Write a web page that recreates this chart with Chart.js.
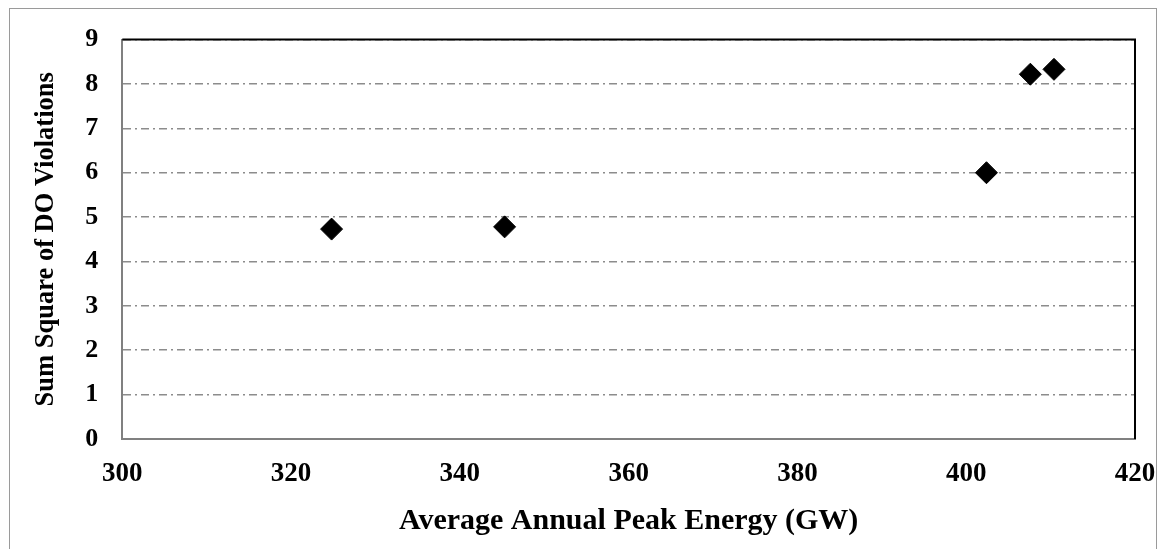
<!DOCTYPE html>
<html>
<head>
<meta charset="utf-8">
<script src="https://cdn.jsdelivr.net/npm/chart.js@4"></script>
<style>
  html, body { margin: 0; padding: 0; background: #fff; }
  #wrap { position: relative; width: 1166px; height: 549px; }
  #frame { position: absolute; left: 9px; top: 8px; width: 1148px; height: 560px; border: 1px solid #9a9a9a; box-sizing: border-box; }
  canvas { position: absolute; left: 0; top: 0; }
</style>
</head>
<body>
<div id="wrap">
  <div id="frame"></div>
  <canvas id="chart" width="1166" height="549"></canvas>
</div>
<script>
// values
const peakEnergy = [324.8, 345.3, 402.4, 407.6, 410.4];   // GW
const violations = [4.73, 4.78, 6.0, 8.22, 8.33];
const xTicks = [300, 320, 340, 360, 380, 400, 420];
const yTicks = [0, 1, 2, 3, 4, 5, 6, 7, 8, 9];

const serif = '"Liberation Serif", "Times New Roman", serif';

// top and right edges of the plot box are black
const boxEdges = {
  id: 'boxEdges',
  afterDraw(chart) {
    const { ctx, chartArea: a } = chart;
    ctx.save();
    ctx.strokeStyle = '#000';
    ctx.lineWidth = 2;
    ctx.beginPath();
    ctx.moveTo(a.left, a.top);
    ctx.lineTo(a.right, a.top);
    ctx.lineTo(a.right, a.bottom);
    ctx.stroke();
    ctx.restore();
  }
};

new Chart(document.getElementById('chart'), {
  type: 'scatter',
  data: {
    datasets: [{
      label: 'Sum Square of DO Violations',
      data: peakEnergy.map((x, i) => ({ x: x, y: violations[i] })),
      pointStyle: 'rectRot',
      pointRadius: 11,
      pointHoverRadius: 11,
      backgroundColor: '#000',
      borderColor: '#000',
      borderWidth: 1
    }]
  },
  options: {
    responsive: false,
    animation: false,
    layout: { padding: { top: 35, right: 31, left: 0, bottom: 0 } },
    plugins: {
      legend: { display: false },
      tooltip: { enabled: false }
    },
    scales: {
      x: {
        type: 'linear',
        min: 300,
        max: 420,
        afterBuildTicks: s => { s.ticks = xTicks.map(v => ({ value: v })); },
        afterFit: s => {
          s.height = 110;
          s.paddingLeft = 0;
          s.paddingRight = 0;
        },
        grid: { display: false, drawTicks: false },
        border: { display: true, color: '#808080', width: 2 },
        ticks: {
          padding: 19,
          color: '#000',
          font: { family: serif, size: 27, weight: 'bold' }
        },
        title: {
          display: true,
          text: 'Average Annual Peak Energy (GW)',
          color: '#000',
          padding: { top: 0, bottom: 9.5 },
          font: { family: serif, size: 30, weight: 'bold' }
        }
      },
      y: {
        type: 'linear',
        min: 0,
        max: 9,
        afterBuildTicks: s => { s.ticks = yTicks.map(v => ({ value: v })); },
        afterFit: s => { s.width = 122.3; },
        grid: {
          drawTicks: false,
          color: '#8c8c8c',
          lineWidth: 1.5,
          tickBorderDash: [8, 4, 2, 4]
        },
        border: { display: true, color: '#808080', width: 2, dash: [8, 4, 2, 4] },
        ticks: {
          padding: 24,
          color: '#000',
          font: { family: serif, size: 26, weight: 'bold' }
        },
        title: {
          display: true,
          text: 'Sum Square of DO Violations',
          color: '#000',
          padding: { top: 30, bottom: 0 },
          font: { family: serif, size: 26.5, weight: 'bold' }
        }
      }
    }
  },
  plugins: [boxEdges]
});
</script>
</body>
</html>
